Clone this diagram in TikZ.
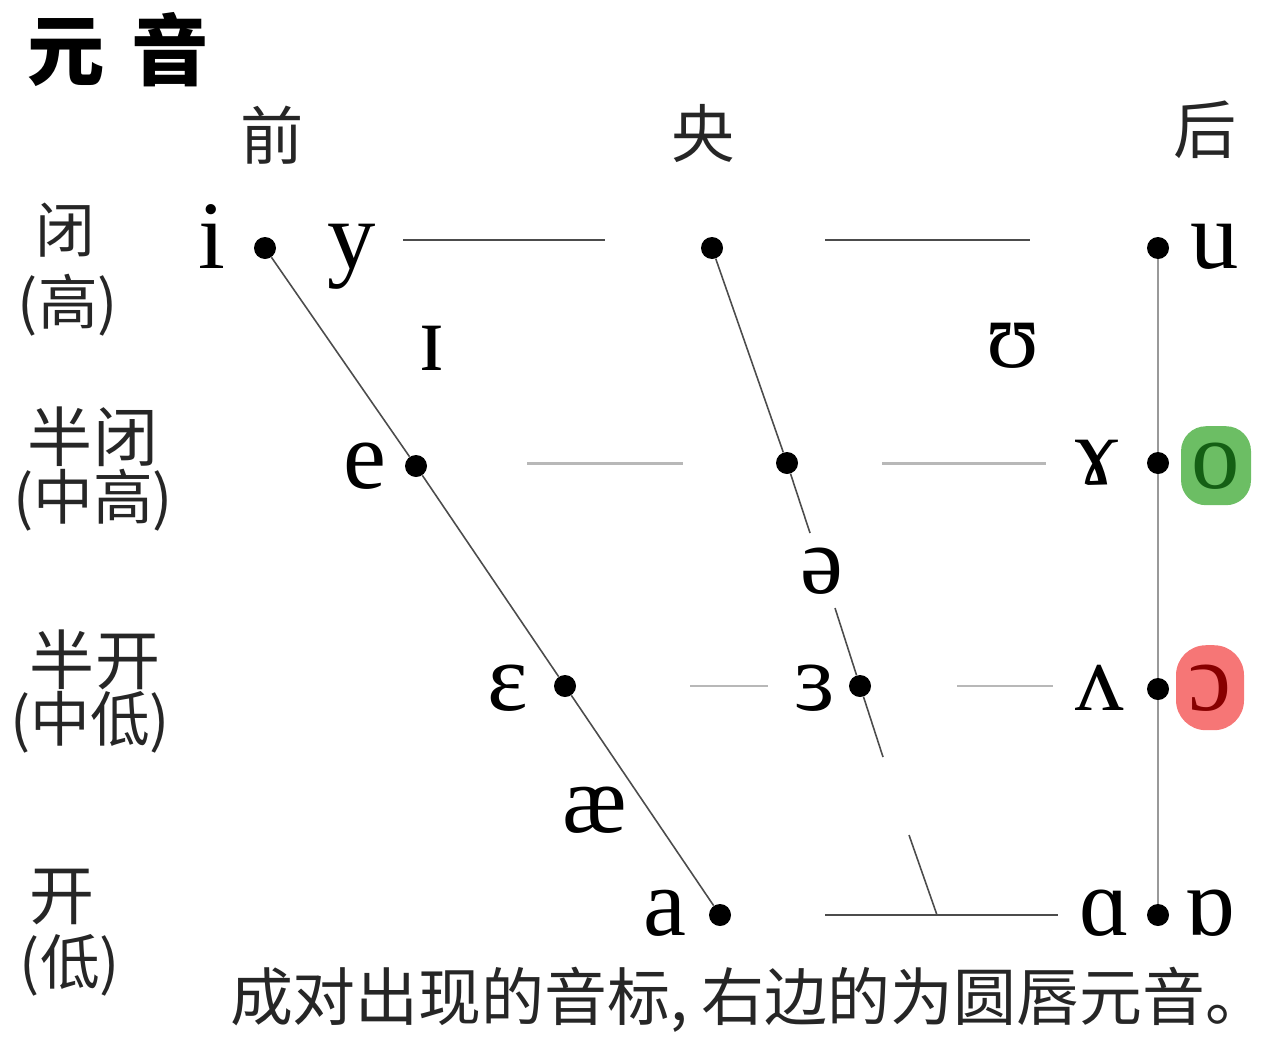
\documentclass[tikz,border=0pt]{standalone}
\usepackage{fontspec}
\setmainfont{Liberation Serif}
\newfontfamily\cjk{Noto Sans CJK SC}
\usepackage{tikz}
\usetikzlibrary{positioning}
\definecolor{hlgreen}{RGB}{108,190,100}
\definecolor{hlred}{RGB}{246,118,118}
\definecolor{ogreen}{RGB}{20,95,20}
\definecolor{ored}{RGB}{135,0,0}

\begin{document}
\begin{tikzpicture}[x=0.02cm,y=-0.02cm,
    dot/.style={circle,fill=black,inner sep=0pt,minimum size=0.44cm},
    ipa/.style={font=\fontsize{55}{55}\selectfont,inner sep=0pt,anchor=base},
    lbl/.style={font=\cjk\fontsize{34}{34}\selectfont,inner sep=0pt,text=black!85},
    thinline/.style={draw=black!70,line width=0.9pt},
    greyline/.style={draw=black!28,line width=1.7pt},
    backline/.style={draw=black!40,line width=1.2pt}]
\useasboundingbox (0,0) rectangle (1270,1038);
% headings
\node[lbl,font=\cjk\bfseries\fontsize{44}{44}\selectfont,text=black] (title) at (118,50) {元\hspace{0.35em}音};
\node[lbl,font=\cjk\fontsize{36}{36}\selectfont] (front) at (272,135) {前};
\node[lbl,font=\cjk\fontsize{36}{36}\selectfont] (central) at (703,133) {央};
\node[lbl,font=\cjk\fontsize{36}{36}\selectfont] (back) at (1205,130) {后};
\node[lbl] (close) at (65,230) {闭};
\node[lbl] (closeb) at (68,305) {(高)};
\node[lbl,font=\cjk\fontsize{37}{37}\selectfont] (cmid) at (93,437) {半闭};
\node[lbl] (cmidb) at (93,500) {(中高)};
\node[lbl,font=\cjk\fontsize{37}{37}\selectfont] (omid) at (95,660) {半开};
\node[lbl] (omidb) at (90,722) {(中低)};
\node[lbl,font=\cjk\fontsize{37}{37}\selectfont] (open) at (62,897) {开};
\node[lbl] (openb) at (70,965) {(低)};
\node[lbl,font=\cjk\fontsize{35.8}{36}\selectfont] (note) at (749,1000) {成对出现的音标, 右边的为圆唇元音。};

% dots
\node[dot] (di) at (265,248) {};
\node[dot] (dct) at (712,248) {};
\node[dot] (du) at (1158,248) {};
\node[dot] (de) at (416,466) {};
\node[dot] (dcm) at (787,463) {};
\node[dot] (dbm) at (1158,463) {};
\node[dot] (deps) at (565,686) {};
\node[dot] (drev) at (860,686) {};
\node[dot] (dbl) at (1158,689) {};
\node[dot] (da) at (720,915) {};
\node[dot] (dbb) at (1158,915) {};

% vowels
\node[ipa] (i) at (212,268) {i};
\node[ipa] (y) at (352,268) {y};
\node[ipa] (ii) at (432,370) {ɪ};
\node[ipa] (uu) at (1013,367) {ʊ};
\node[ipa] (u) at (1215,268) {u};
\node[ipa] (e) at (365,488) {e};
\node[ipa] (ram) at (1097,484) {ɤ};
\node[ipa,text=ogreen,fill=hlgreen,rounded corners=0.5cm,minimum width=1.4cm,minimum height=1.58cm] (o) at (1216,488) {o};
\node[ipa] (schwa) at (822,593) {ə};
\node[ipa] (eps) at (508,710) {ɛ};
\node[ipa] (rev) at (815,710) {ɜ};
\node[ipa] (wedge) at (1100,710) {ʌ};
\node[ipa,text=ored,fill=hlred,rounded corners=0.6cm,minimum width=1.36cm,minimum height=1.7cm] (oo) at (1210,710) {ɔ};
\node[ipa] (ae) at (595,832) {æ};
\node[ipa] (a) at (665,935) {a};
\node[ipa] (alpha) at (1105,935) {ɑ};
\node[ipa] (ralpha) at (1210,935) {ɒ};

% free ends of the lines
\coordinate (c1) at (810,533);
\coordinate (c2) at (835,608);
\coordinate (c3) at (883,757);
\coordinate (c4) at (909,835);
\coordinate (c5) at (937,915);
\coordinate (t1) at (403,240);
\coordinate (t2) at (605,240);
\coordinate (t3) at (825,240);
\coordinate (t4) at (1030,240);
\coordinate (m1) at (527,463);
\coordinate (m2) at (683,463);
\coordinate (m3) at (882,463);
\coordinate (m4) at (1046,463);
\coordinate (l1) at (690,686);
\coordinate (l2) at (768,686);
\coordinate (l3) at (957,686);
\coordinate (l4) at (1053,686);
\coordinate (b1) at (825,915);
\coordinate (b2) at (1058,915);

\path [thinline] (di) edge (de);
\path [thinline] (de) edge (deps);
\path [thinline] (deps) edge (da);
\path [thinline] (dct) edge (dcm);
\path [thinline] (dcm) edge (c1);
\path [thinline] (c2) edge (drev);
\path [thinline] (drev) edge (c3);
\path [thinline] (c4) edge (c5);
\path [thinline] (t1) edge (t2);
\path [thinline] (t3) edge (t4);
\path [greyline] (m1) edge (m2);
\path [greyline] (m3) edge (m4);
\path [greyline,line width=1.2pt] (l1) edge (l2);
\path [greyline,line width=1.2pt] (l3) edge (l4);
\path [thinline] (b1) edge (b2);
\path [backline] (du) edge (dbm);
\path [backline] (dbm) edge (dbl);
\path [backline] (dbl) edge (dbb);
\end{tikzpicture}
\end{document}
